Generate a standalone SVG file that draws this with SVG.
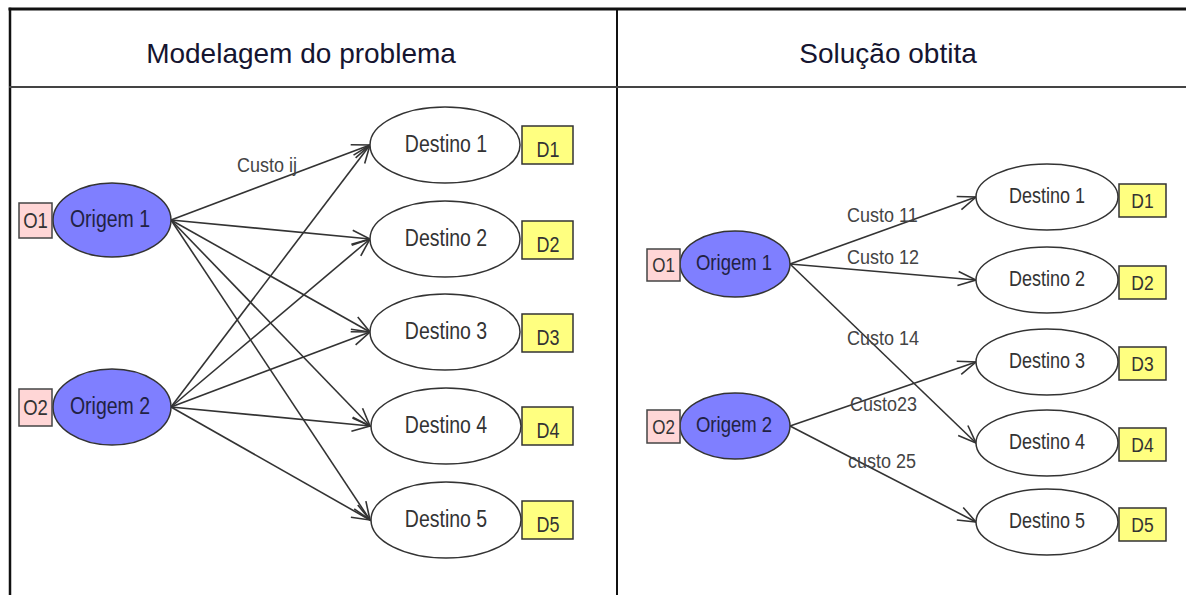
<svg xmlns="http://www.w3.org/2000/svg" width="1186" height="595" viewBox="0 0 1186 595">
<style>
.hdr{font-family:"Liberation Sans",Arial,sans-serif;font-size:28px;fill:#151530;text-anchor:middle}
.org{fill:#7f7fff;stroke:#333;stroke-width:1.5}
.dst{fill:#fff;stroke:#333;stroke-width:1.5}
.obox{fill:#ffd6d6;stroke:#444;stroke-width:1.5}
.dbox{fill:#ffff80;stroke:#333;stroke-width:1.5}
.t{font-family:"Liberation Sans",Arial,sans-serif;fill:#333;text-anchor:middle}
.to{font-family:"Liberation Sans",Arial,sans-serif;fill:#222244;text-anchor:middle}
.lbl{font-family:"Liberation Sans",Arial,sans-serif;font-size:18px;fill:#444}
.edge{stroke:#333;stroke-width:1.6;fill:none;marker-end:url(#arr)}
</style>
<defs>
<marker id="arr" markerUnits="userSpaceOnUse" markerWidth="40" markerHeight="40" refX="0" refY="0" orient="auto" overflow="visible">
<path d="M -18 -7 L 0 0 L -18 7" fill="none" stroke="#333" stroke-width="1.6"/>
</marker>
</defs>
<rect width="1186" height="595" fill="#fff"/>
<g id="table" stroke-linecap="square">
<line x1="10" y1="9" x2="1186" y2="9" stroke="#111" stroke-width="3"/>
<line x1="10" y1="9" x2="10" y2="595" stroke="#111" stroke-width="2.5"/>
<line x1="617" y1="9" x2="617" y2="595" stroke="#111" stroke-width="2"/>
<line x1="10" y1="87" x2="1186" y2="87" stroke="#444" stroke-width="2"/>
<text class="hdr" x="301" y="63">Modelagem do problema</text>
<text class="hdr" x="888" y="63">Solução obtita</text>
</g>
<g id="connectors">
<line class="edge" x1="171" y1="220" x2="370" y2="145"/>
<line class="edge" x1="171" y1="220" x2="370" y2="239"/>
<line class="edge" x1="171" y1="220" x2="370" y2="332"/>
<line class="edge" x1="171" y1="220" x2="370" y2="426"/>
<line class="edge" x1="171" y1="220" x2="370" y2="520"/>
<line class="edge" x1="171" y1="407" x2="370" y2="145"/>
<line class="edge" x1="171" y1="407" x2="370" y2="239"/>
<line class="edge" x1="171" y1="407" x2="370" y2="332"/>
<line class="edge" x1="171" y1="407" x2="370" y2="426"/>
<line class="edge" x1="171" y1="407" x2="370" y2="520"/>
<text class="lbl" transform="translate(237,172) scale(1,1.15)">Custo ij</text>
<line class="edge" x1="790" y1="264" x2="976" y2="197"/>
<line class="edge" x1="790" y1="264" x2="976" y2="280"/>
<line class="edge" x1="790" y1="264" x2="976" y2="443"/>
<line class="edge" x1="790" y1="426" x2="976" y2="362"/>
<line class="edge" x1="790" y1="426" x2="976" y2="522"/>
<text class="lbl" transform="translate(847,222) scale(1,1.15)">Custo 11</text>
<text class="lbl" transform="translate(847,264) scale(1,1.15)">Custo 12</text>
<text class="lbl" transform="translate(847,345) scale(1,1.15)">Custo 14</text>
<text class="lbl" transform="translate(850,411) scale(1,1.15)">Custo23</text>
<text class="lbl" transform="translate(848,468) scale(1,1.15)">custo 25</text>
</g>
<g id="L-origem1"><ellipse class="org" cx="112" cy="220" rx="59" ry="37"/><text class="to" font-size="19.5" transform="translate(110,227) scale(1,1.18)">Origem 1</text></g>
<g id="L-o1"><rect class="obox" x="19" y="203" width="33" height="35"/><text class="t" font-size="18.5" transform="translate(35.5,228) scale(1,1.18)">O1</text></g>
<g id="L-origem2"><ellipse class="org" cx="112" cy="407" rx="59" ry="38"/><text class="to" font-size="19.5" transform="translate(110,414) scale(1,1.18)">Origem 2</text></g>
<g id="L-o2"><rect class="obox" x="19" y="389" width="33" height="37"/><text class="t" font-size="18.5" transform="translate(35.5,415) scale(1,1.18)">O2</text></g>
<g id="L-destino1"><ellipse class="dst" cx="445" cy="145" rx="75" ry="38"/><text class="t" font-size="19.5" transform="translate(446,152) scale(1,1.18)">Destino 1</text></g>
<g id="L-d1"><rect class="dbox" x="522" y="126" width="51" height="38"/><text class="t" font-size="18" transform="translate(548,157) scale(1,1.2)">D1</text></g>
<g id="L-destino2"><ellipse class="dst" cx="445" cy="239" rx="75" ry="38"/><text class="t" font-size="19.5" transform="translate(446,246) scale(1,1.18)">Destino 2</text></g>
<g id="L-d2"><rect class="dbox" x="522" y="221" width="51" height="38"/><text class="t" font-size="18" transform="translate(548,252) scale(1,1.2)">D2</text></g>
<g id="L-destino3"><ellipse class="dst" cx="445" cy="332" rx="75" ry="38"/><text class="t" font-size="19.5" transform="translate(446,339) scale(1,1.18)">Destino 3</text></g>
<g id="L-d3"><rect class="dbox" x="522" y="314" width="51" height="38"/><text class="t" font-size="18" transform="translate(548,345) scale(1,1.2)">D3</text></g>
<g id="L-destino4"><ellipse class="dst" cx="446" cy="426" rx="75" ry="38"/><text class="t" font-size="19.5" transform="translate(446,433) scale(1,1.18)">Destino 4</text></g>
<g id="L-d4"><rect class="dbox" x="522" y="407" width="51" height="38"/><text class="t" font-size="18" transform="translate(548,438) scale(1,1.2)">D4</text></g>
<g id="L-destino5"><ellipse class="dst" cx="446" cy="520" rx="75" ry="38"/><text class="t" font-size="19.5" transform="translate(446,527) scale(1,1.18)">Destino 5</text></g>
<g id="L-d5"><rect class="dbox" x="522" y="501" width="51" height="38"/><text class="t" font-size="18" transform="translate(548,532) scale(1,1.2)">D5</text></g>
<g id="R-origem1"><ellipse class="org" cx="735" cy="264" rx="55" ry="33"/><text class="to" font-size="18.5" transform="translate(734,270) scale(1,1.18)">Origem 1</text></g>
<g id="R-o1"><rect class="obox" x="647" y="249" width="33" height="32"/><text class="t" font-size="17" transform="translate(663.5,272) scale(1,1.18)">O1</text></g>
<g id="R-origem2"><ellipse class="org" cx="735" cy="426" rx="55" ry="33"/><text class="to" font-size="18.5" transform="translate(734,432) scale(1,1.18)">Origem 2</text></g>
<g id="R-o2"><rect class="obox" x="647" y="410" width="33" height="33"/><text class="t" font-size="17" transform="translate(663.5,434) scale(1,1.18)">O2</text></g>
<g id="R-destino1"><ellipse class="dst" cx="1047" cy="197" rx="71" ry="33"/><text class="t" font-size="18" transform="translate(1047,203) scale(1,1.18)">Destino 1</text></g>
<g id="R-d1"><rect class="dbox" x="1119" y="184" width="47" height="33"/><text class="t" font-size="17.5" transform="translate(1142.5,208) scale(1,1.18)">D1</text></g>
<g id="R-destino2"><ellipse class="dst" cx="1047" cy="280" rx="71" ry="33"/><text class="t" font-size="18" transform="translate(1047,286) scale(1,1.18)">Destino 2</text></g>
<g id="R-d2"><rect class="dbox" x="1119" y="266" width="47" height="33"/><text class="t" font-size="17.5" transform="translate(1142.5,290) scale(1,1.18)">D2</text></g>
<g id="R-destino3"><ellipse class="dst" cx="1047" cy="362" rx="71" ry="33"/><text class="t" font-size="18" transform="translate(1047,368) scale(1,1.18)">Destino 3</text></g>
<g id="R-d3"><rect class="dbox" x="1119" y="347" width="47" height="33"/><text class="t" font-size="17.5" transform="translate(1142.5,371) scale(1,1.18)">D3</text></g>
<g id="R-destino4"><ellipse class="dst" cx="1047" cy="443" rx="71" ry="33"/><text class="t" font-size="18" transform="translate(1047,449) scale(1,1.18)">Destino 4</text></g>
<g id="R-d4"><rect class="dbox" x="1119" y="428" width="47" height="33"/><text class="t" font-size="17.5" transform="translate(1142.5,452) scale(1,1.18)">D4</text></g>
<g id="R-destino5"><ellipse class="dst" cx="1047" cy="522" rx="71" ry="33"/><text class="t" font-size="18" transform="translate(1047,528) scale(1,1.18)">Destino 5</text></g>
<g id="R-d5"><rect class="dbox" x="1119" y="508" width="47" height="33"/><text class="t" font-size="17.5" transform="translate(1142.5,532) scale(1,1.18)">D5</text></g>
</svg>
